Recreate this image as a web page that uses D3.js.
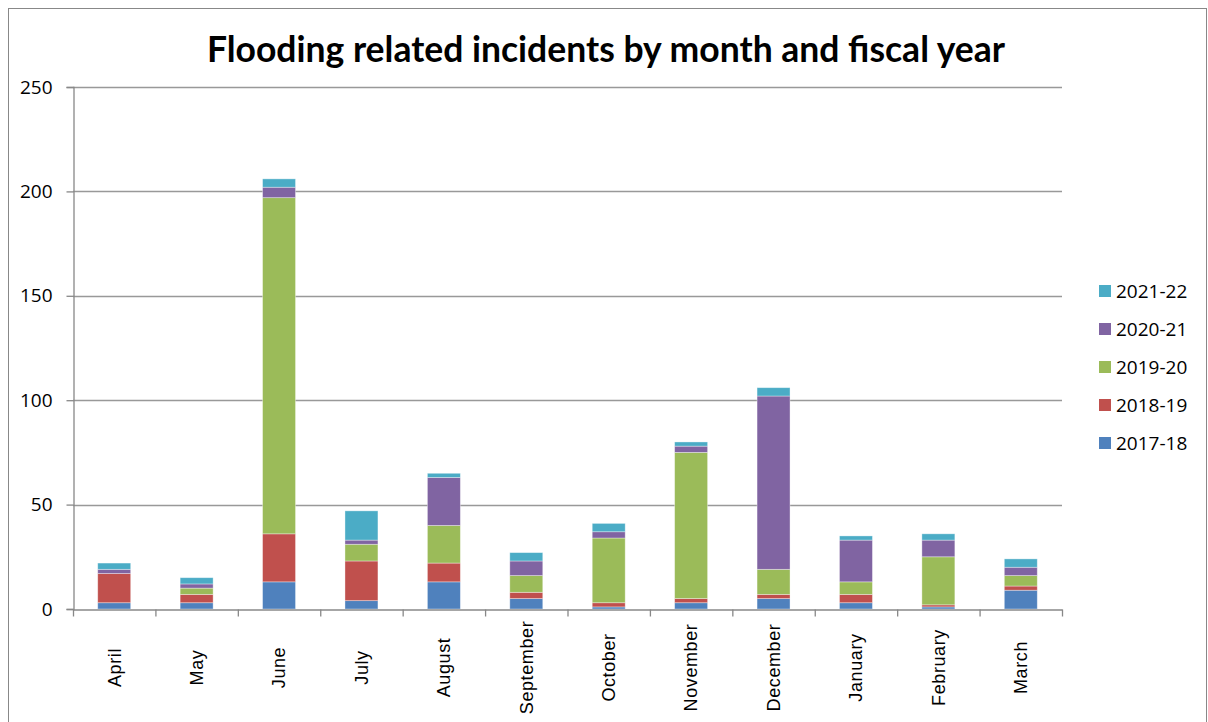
<!DOCTYPE html>
<html>
<head>
<meta charset="utf-8">
<script src="https://cdn.jsdelivr.net/npm/d3@7"></script>
<style>
  body { margin: 0; background: #fff; }
  svg { display: block; }
</style>
</head>
<body>
<svg id="chart" width="1208" height="722"></svg>
<script>
var months = ["April", "May", "June", "July", "August", "September", "October",
              "November", "December", "January", "February", "March"];
var years = ["2017-18", "2018-19", "2019-20", "2020-21", "2021-22"];
var fy1718 = [3, 3, 13, 4, 13, 5, 1, 3, 5, 3, 1, 9];
var fy1819 = [14, 4, 23, 19, 9, 3, 2, 2, 2, 4, 1, 2];
var fy1920 = [0, 3, 161, 8, 18, 8, 31, 70, 12, 6, 23, 5];
var fy2021 = [2, 2, 5, 2, 23, 7, 3, 3, 83, 20, 8, 4];
var fy2122 = [3, 3, 4, 14, 2, 4, 4, 2, 4, 2, 3, 4];
var yTicks = [0, 50, 100, 150, 200, 250];
var colours = ["#4F81BD", "#C0504D", "#9BBB59", "#8064A2", "#4BACC6"];

var seriesVals = [fy1718, fy1819, fy1920, fy2021, fy2122];
var rows = months.map(function(m, i) {
    var r = { month: m };
    years.forEach(function(y, j) { r[y] = seriesVals[j][i]; });
    return r;
});

var svg = d3.select("#chart"),
    MARGINS = { top: 87, right: 146, bottom: 113, left: 73 },
    WIDTH = 1208, HEIGHT = 722;

// outer chart border
svg.append("rect")
   .attr("x", 8.5).attr("y", 8.5)
   .attr("width", WIDTH - 10).attr("height", HEIGHT)
   .attr("fill", "none").attr("stroke", "#888").attr("stroke-width", 1);

var xScale = d3.scaleBand().domain(months)
               .range([MARGINS.left, WIDTH - MARGINS.right])
               .paddingInner(0.6).paddingOuter(0.3);
var yScale = d3.scaleLinear().domain([0, 250])
               .range([HEIGHT - MARGINS.bottom, MARGINS.top]);

// gridlines
svg.append("g")
   .selectAll("line").data(yTicks.slice(1)).enter().append("line")
   .attr("x1", MARGINS.left).attr("x2", WIDTH - MARGINS.right)
   .attr("y1", function(d) { return Math.round(yScale(d)) + 0.5; })
   .attr("y2", function(d) { return Math.round(yScale(d)) + 0.5; })
   .attr("stroke", "#999").attr("stroke-width", 1.3);

// title
svg.append("text")
   .attr("x", 606).attr("y", 62)
   .attr("text-anchor", "middle")
   .style("font-family", "Lato, 'Open Sans', sans-serif")
   .style("font-weight", "bold").style("font-size", "35.5px")
   .text("Flooding related incidents by month and fiscal year");

// stacked bars
var stack = d3.stack().keys(years);
var layers = stack(rows);

svg.append("g").selectAll("g")
   .data(layers).enter().append("g")
   .attr("fill", function(d, i) { return colours[i]; })
   .selectAll("rect")
   .data(function(d) { return d; }).enter().append("rect")
   .attr("x", function(d) { return xScale(d.data.month); })
   .attr("width", xScale.bandwidth())
   .attr("y", function(d) { return yScale(d[1]); })
   .attr("height", function(d) { return yScale(d[0]) - yScale(d[1]); })
   .attr("stroke", "rgba(255,255,255,0.45)").attr("stroke-width", 0.8);

// y axis
var yAxis = d3.axisLeft(yScale).tickValues(yTicks).tickSize(7).tickPadding(14);
var gy = svg.append("g")
   .attr("transform", "translate(" + (MARGINS.left + 0.5) + ",0)")
   .call(yAxis);
gy.select(".domain").attr("stroke", "#888").attr("stroke-width", 1.3);
gy.selectAll(".tick line").attr("stroke", "#888").attr("stroke-width", 1.3);
gy.selectAll("text")
  .style("font-family", "'Open Sans', sans-serif").style("font-size", "19px").attr("fill", "#000");

// x axis
var step = xScale.step();
var xAxis = d3.axisBottom(xScale).tickSize(0).tickPadding(0);
var gx = svg.append("g")
   .attr("transform", "translate(0," + (Math.round(yScale(0)) + 0.5) + ")")
   .call(xAxis);
gx.select(".domain").attr("stroke", "#888").attr("stroke-width", 1.3);
gx.selectAll(".tick text")
  .attr("transform", "rotate(-90)")
  .attr("x", -58).attr("y", 0).attr("dy", "0.35em")
  .attr("text-anchor", "middle")
  .style("font-family", "'Liberation Sans', Arial, sans-serif")
  .style("font-size", "18px").style("letter-spacing", "0.6px").attr("fill", "#000");
// category separator ticks
gx.selectAll(".sep")
  .data(d3.range(months.length + 1)).enter().append("line")
  .attr("x1", function(i) { return MARGINS.left + 0.5 + i * step; })
  .attr("x2", function(i) { return MARGINS.left + 0.5 + i * step; })
  .attr("y1", 0).attr("y2", 7)
  .attr("stroke", "#888").attr("stroke-width", 1.3);

// legend
var legend = svg.append("g").selectAll("g")
   .data(years.slice().reverse()).enter().append("g")
   .attr("transform", function(d, i) { return "translate(1099," + (291 + i * 38) + ")"; });
legend.append("rect")
   .attr("x", 0).attr("y", -6).attr("width", 12).attr("height", 12)
   .attr("fill", function(d) { return colours[years.indexOf(d)]; });
legend.append("text")
   .attr("x", 17).attr("y", 0).attr("dy", "0.35em")
   .style("font-family", "'Open Sans', sans-serif").style("font-size", "19px")
   .text(function(d) { return d; });
</script>
</body>
</html>
